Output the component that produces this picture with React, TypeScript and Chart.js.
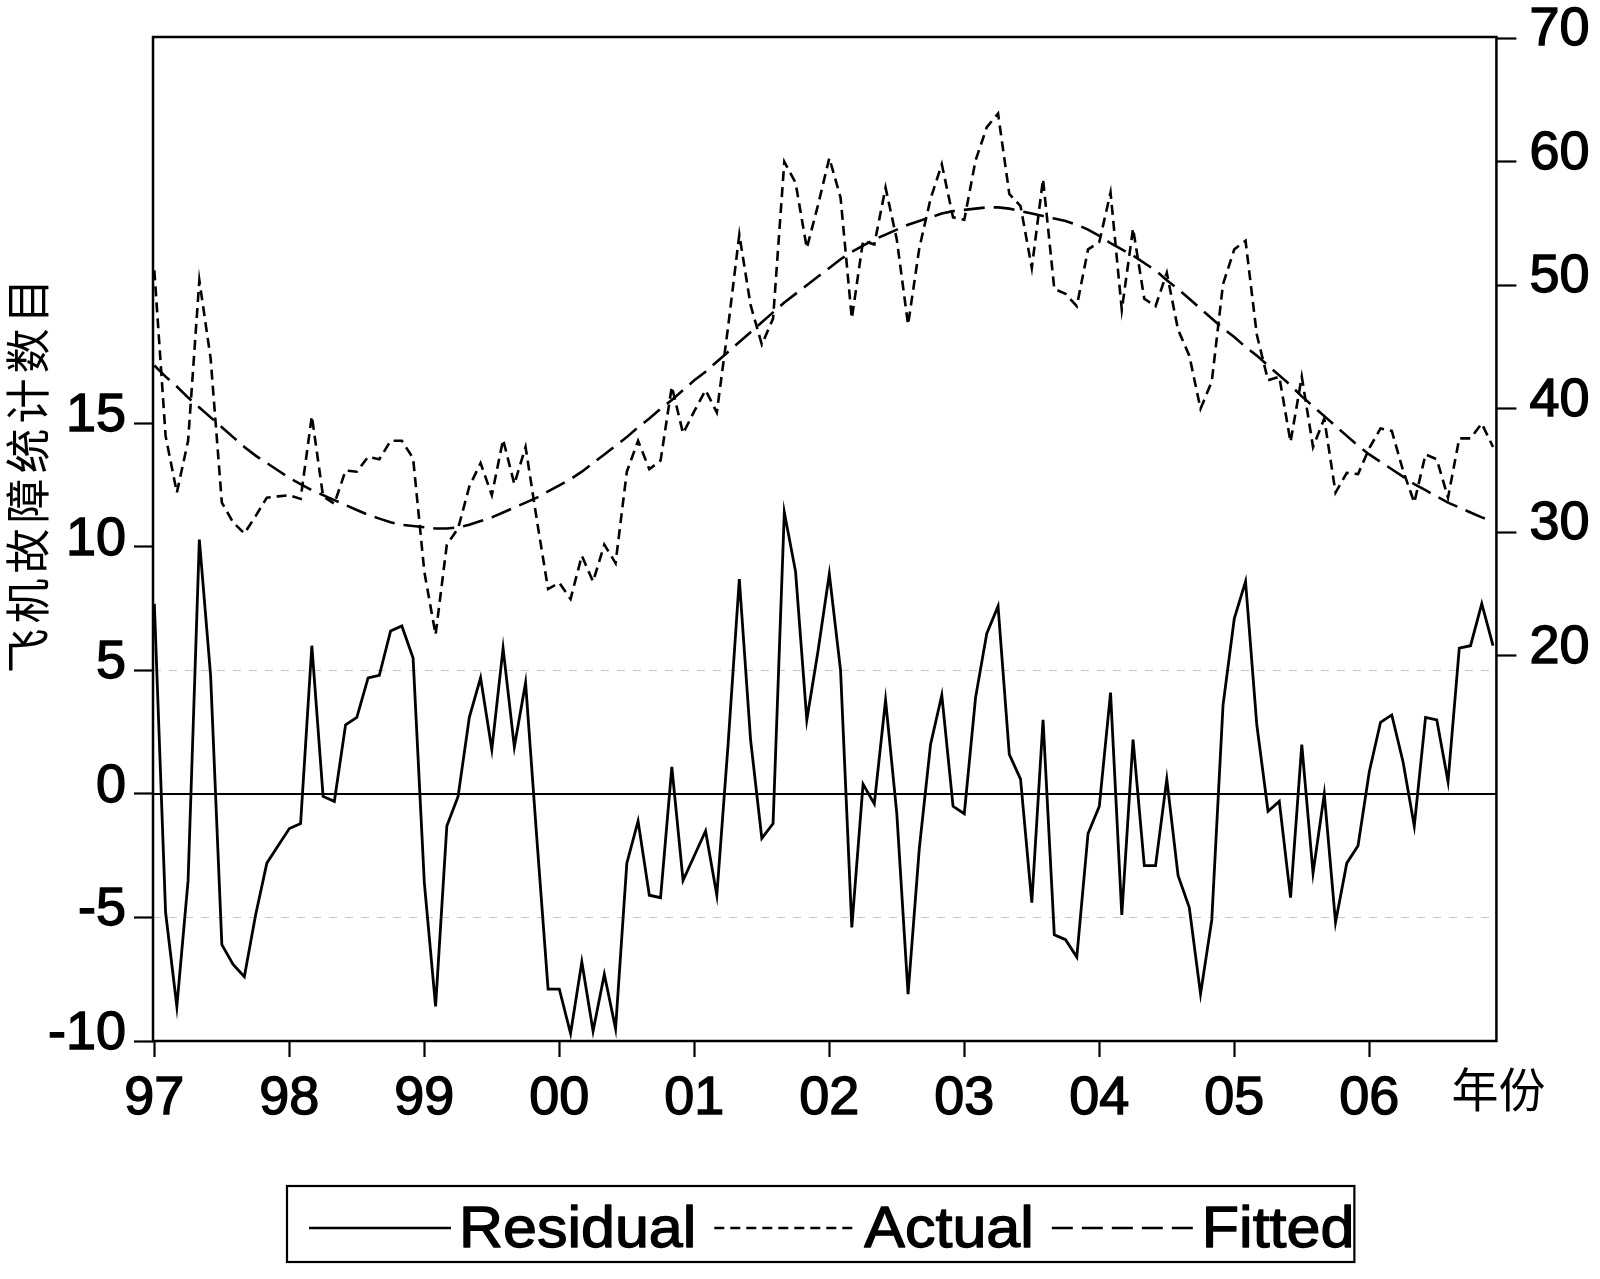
import React, { useEffect, useRef } from "react";
import { Chart, registerables } from "chart.js";

Chart.register(...registerables);

// ---- data (monthly, Jan 1997 .. Dec 2006) ----
const xTickLabels = ["97", "98", "99", "00", "01", "02", "03", "04", "05", "06"];
const xTickValues = [0, 12, 24, 36, 48, 60, 72, 84, 96, 108];
const leftTicks = [-10, -5, 0, 5, 10, 15];
const rightTicks = [20, 30, 40, 50, 60, 70];
const refLevels = [-5, 5];
const seriesNames = ["Residual", "Actual", "Fitted"];
const yTitle = "飞机故障统计数目";
const xUnit = "年份";

const residual = [
  7.7, -4.8, -8.6, -3.5, 10.3, 4.8, -6.1, -6.9, -7.4, -4.9,
  -2.8, -2.1, -1.4, -1.2, 6.0, -0.1, -0.3, 2.8, 3.1, 4.7,
  4.8, 6.6, 6.8, 5.5, -3.6, -8.6, -1.3, -0.1, 3.1, 4.7,
  1.8, 5.9, 1.9, 4.5, -1.8, -7.9, -7.9, -9.7, -6.8, -9.6,
  -7.3, -9.5, -2.8, -1.1, -4.1, -4.2, 1.1, -3.5, -2.5, -1.5,
  -4.1, 2.0, 8.7, 2.2, -1.8, -1.2, 11.4, 9.0, 3.0, 5.8,
  8.9, 5.0, -5.4, 0.4, -0.4, 3.8, -0.8, -8.1, -2.2, 2.0,
  4.0, -0.5, -0.8, 3.9, 6.5, 7.6, 1.6, 0.6, -4.4, 3.0,
  -5.7, -5.9, -6.6, -1.6, -0.5, 4.1, -4.9, 2.2, -2.9, -2.9,
  0.6, -3.3, -4.6, -8.1, -5.1, 3.6, 7.1, 8.6, 2.8, -0.7,
  -0.3, -4.2, 2.0, -3.2, 0.0, -5.2, -2.8, -2.1, 0.9, 2.9,
  3.2, 1.3, -1.3, 3.1, 3.0, 0.5, 5.9, 6.0, 7.7, 6.0,
];

const actual = [
  51.2, 37.8, 33.2, 37.4, 50.4, 44.1, 32.4, 30.8, 29.9, 31.3,
  32.8, 32.9, 33.0, 32.7, 39.4, 32.9, 32.3, 35.0, 34.9, 36.1,
  35.9, 37.4, 37.4, 36.0, 26.8, 21.7, 29.0, 30.3, 33.7, 35.6,
  33.0, 37.5, 33.9, 36.9, 31.0, 25.4, 25.9, 24.6, 28.1, 26.0,
  29.0, 27.5, 34.9, 37.4, 35.1, 35.8, 41.8, 38.0, 39.8, 41.5,
  39.7, 46.6, 54.1, 48.4, 45.2, 47.3, 60.0, 58.3, 53.0, 56.5,
  60.3, 57.1, 47.3, 53.6, 53.3, 57.9, 53.7, 46.8, 53.0, 57.0,
  59.8, 55.5, 55.3, 60.1, 62.8, 63.9, 57.4, 56.4, 51.4, 58.6,
  49.7, 49.3, 48.3, 52.9, 53.5, 57.5, 48.0, 54.6, 48.9, 48.3,
  51.0, 46.4, 44.3, 40.0, 42.2, 50.1, 52.9, 53.6, 46.0, 42.3,
  42.6, 37.3, 42.6, 36.9, 39.2, 33.2, 34.8, 34.7, 36.8, 38.4,
  38.2, 35.0, 32.4, 36.3, 35.9, 32.8, 37.6, 37.6, 38.8, 36.9,
];

const fitted = [
  43.5, 42.6, 41.8, 40.9, 40.1, 39.3, 38.5, 37.7, 36.9, 36.2,
  35.6, 35.0, 34.4, 33.9, 33.4, 33.0, 32.6, 32.2, 31.8, 31.4,
  31.1, 30.8, 30.6, 30.5, 30.4, 30.3, 30.3, 30.4, 30.6, 30.9,
  31.2, 31.6, 32.0, 32.4, 32.8, 33.3, 33.8, 34.3, 34.9, 35.6,
  36.3, 37.0, 37.7, 38.5, 39.2, 40.0, 40.7, 41.5, 42.3, 43.0,
  43.8, 44.6, 45.4, 46.2, 47.0, 47.8, 48.6, 49.3, 50.0, 50.7,
  51.4, 52.1, 52.7, 53.2, 53.7, 54.1, 54.5, 54.9, 55.2, 55.5,
  55.8, 56.0, 56.1, 56.2, 56.3, 56.3, 56.2, 56.0, 55.8, 55.6,
  55.4, 55.2, 54.9, 54.5, 54.0, 53.4, 52.9, 52.4, 51.8, 51.2,
  50.4, 49.7, 48.9, 48.1, 47.3, 46.5, 45.8, 45.0, 44.3, 43.5,
  42.7, 41.9, 41.0, 40.2, 39.4, 38.6, 37.8, 37.0, 36.3, 35.7,
  35.1, 34.5, 33.9, 33.4, 32.9, 32.4, 32.0, 31.6, 31.2, 30.9,
];

const LATIN = '"Liberation Sans", Arial, sans-serif';
const CJK = '"Noto Sans CJK SC", sans-serif';
const tickFont = { family: LATIN, size: 54 };

const toPoints = (arr: number[]) => arr.map((v, i) => ({ x: i, y: v }));

const decorPlugin = {
  id: "decor",
  beforeDatasetsDraw(chart: any) {
    const { ctx, chartArea: ca, scales } = chart;
    const y = scales.y;
    ctx.save();
    ctx.lineWidth = 1;
    ctx.strokeStyle = "#c8c8c8";
    ctx.setLineDash([8, 8]);
    refLevels.forEach((v) => {
      const py = Math.round(y.getPixelForValue(v)) + 0.5;
      ctx.beginPath();
      ctx.moveTo(ca.left, py);
      ctx.lineTo(ca.right, py);
      ctx.stroke();
    });
    ctx.setLineDash([]);
    ctx.lineWidth = 2.2;
    ctx.strokeStyle = "#000";
    const pz = Math.round(y.getPixelForValue(0));
    ctx.beginPath();
    ctx.moveTo(ca.left, pz);
    ctx.lineTo(ca.right, pz);
    ctx.stroke();
    ctx.restore();
  },
  afterDraw(chart: any) {
    const { ctx, chartArea: ca } = chart;
    ctx.save();
    // frame
    ctx.lineWidth = 2.5;
    ctx.strokeStyle = "#000";
    ctx.setLineDash([]);
    ctx.strokeRect(ca.left, ca.top, ca.right - ca.left, ca.bottom - ca.top);

    // y title (rotated)
    ctx.fillStyle = "#000";
    ctx.font = `45px ${CJK}`;
    (ctx as any).letterSpacing = "5px";
    ctx.textAlign = "center";
    ctx.textBaseline = "middle";
    ctx.translate(28, ca.top + 439);
    ctx.rotate(-Math.PI / 2);
    ctx.fillText(yTitle, 2.5, 0);
    ctx.restore();

    // x unit label
    ctx.save();
    ctx.fillStyle = "#000";
    ctx.font = `47px ${CJK}`;
    ctx.textAlign = "left";
    ctx.textBaseline = "middle";
    ctx.fillText(xUnit, ca.right - 45, ca.bottom + 48);
    ctx.restore();

    // legend
    ctx.save();
    const ds = chart.data.datasets;
    const sx = 1.07;
    ctx.font = `57px ${LATIN}`;
    const sampleLen = 142;
    const gapSample = 8;
    const gapText = 18;
    const padLeft = 22;
    const widths = seriesNames.map((n) => ctx.measureText(n).width * sx);
    let total = padLeft;
    widths.forEach((w, i) => {
      total += sampleLen + gapSample + w + (i < widths.length - 1 ? gapText : 0);
    });
    const cx = (ca.left + ca.right) / 2 - 4;
    const left = Math.round(cx - total / 2);
    const top = ca.bottom + 145;
    const h = 76;
    ctx.lineWidth = 2.2;
    ctx.strokeStyle = "#000";
    ctx.strokeRect(left, top, total, h);
    let x = left + padLeft;
    const ly = top + 42;
    seriesNames.forEach((name, i) => {
      ctx.save();
      ctx.lineWidth = 2.4;
      ctx.setLineDash(ds[i].borderDash || []);
      ctx.beginPath();
      ctx.moveTo(x, ly);
      ctx.lineTo(x + sampleLen, ly);
      ctx.stroke();
      ctx.restore();
      x += sampleLen + gapSample;
      ctx.save();
      ctx.translate(x, top + 61);
      ctx.scale(sx, 1);
      ctx.fillStyle = "#000";
      ctx.strokeStyle = "#000";
      ctx.lineWidth = 1.3;
      ctx.lineJoin = "round";
      ctx.textAlign = "left";
      ctx.textBaseline = "alphabetic";
      ctx.fillText(name, 0, 0);
      ctx.strokeText(name, 0, 0);
      ctx.restore();
      x += widths[i] + gapText;
    });
    ctx.restore();
  },
};

export default function App() {
  const ref = useRef<HTMLCanvasElement | null>(null);

  useEffect(() => {
    if (!ref.current) return;
    const chart = new Chart(ref.current, {
      type: "line",
      data: {
        datasets: [
          {
            label: seriesNames[0],
            data: toPoints(residual),
            yAxisID: "y",
            borderColor: "#000",
            borderWidth: 2.8,
            pointRadius: 0,
            tension: 0,
            fill: false,
          },
          {
            label: seriesNames[1],
            data: toPoints(actual),
            yAxisID: "y1",
            borderColor: "#000",
            borderWidth: 2.6,
            borderDash: [10, 6],
            pointRadius: 0,
            tension: 0,
            fill: false,
          },
          {
            label: seriesNames[2],
            data: toPoints(fitted),
            yAxisID: "y1",
            borderColor: "#000",
            borderWidth: 2.6,
            borderDash: [21, 9],
            pointRadius: 0,
            tension: 0,
            fill: false,
          },
        ],
      },
      options: {
        responsive: false,
        animation: false,
        devicePixelRatio: 1,
        layout: { padding: { top: 37, left: 0, right: 0, bottom: 0 } },
        plugins: {
          legend: { display: false },
          tooltip: { enabled: false },
        },
        scales: {
          x: {
            type: "linear",
            min: -0.12,
            max: 119.3,
            afterBuildTicks: (s: any) => {
              s.ticks = xTickValues.map((v) => ({ value: v }));
            },
            afterFit: (s: any) => {
              s.height = 238;
              s.paddingLeft = 0;
              s.paddingRight = 0;
            },
            ticks: {
              autoSkip: false,
              maxRotation: 0,
              color: "#000",
              font: tickFont,
              padding: 10,
              textStrokeColor: "#000",
              textStrokeWidth: 1.4,
              callback: (v: any) => {
                const k = xTickValues.indexOf(Number(v));
                return k >= 0 ? xTickLabels[k] : "";
              },
            },
            grid: {
              drawOnChartArea: false,
              drawTicks: true,
              tickLength: 16,
              tickWidth: 2.2,
              tickColor: "#000",
            },
            border: { display: false },
          },
          y: {
            type: "linear",
            position: "left",
            min: -10,
            max: 30.64,
            afterBuildTicks: (s: any) => {
              s.ticks = leftTicks.map((v) => ({ value: v }));
            },
            afterFit: (s: any) => {
              s.width = 153;
              s.paddingTop = 0;
              s.paddingBottom = 0;
            },
            ticks: {
              color: "#000",
              font: tickFont,
              padding: 8,
              labelOffset: -7,
              textStrokeColor: "#000",
              textStrokeWidth: 1.4,
            },
            grid: {
              drawOnChartArea: false,
              drawTicks: true,
              tickLength: 19,
              tickWidth: 2.2,
              tickColor: "#000",
            },
            border: { display: false },
          },
          y1: {
            type: "linear",
            position: "right",
            min: -11.2,
            max: 70.1,
            afterBuildTicks: (s: any) => {
              s.ticks = rightTicks.map((v) => ({ value: v }));
            },
            afterFit: (s: any) => {
              s.width = 103.6;
              s.paddingTop = 0;
              s.paddingBottom = 0;
            },
            ticks: {
              color: "#000",
              font: tickFont,
              padding: 13,
              labelOffset: -8,
              textStrokeColor: "#000",
              textStrokeWidth: 1.4,
            },
            grid: {
              drawOnChartArea: false,
              drawTicks: true,
              tickLength: 20,
              tickWidth: 2.2,
              tickColor: "#000",
            },
            border: { display: false },
          },
        },
      },
      plugins: [decorPlugin],
    });
    return () => chart.destroy();
  }, []);

  return (
    <div style={{ position: "absolute", left: 0, top: 0, width: 1600, height: 1279, background: "#fff" }}>
      <canvas ref={ref} width={1600} height={1279} style={{ display: "block", width: 1600, height: 1279 }} />
    </div>
  );
}
